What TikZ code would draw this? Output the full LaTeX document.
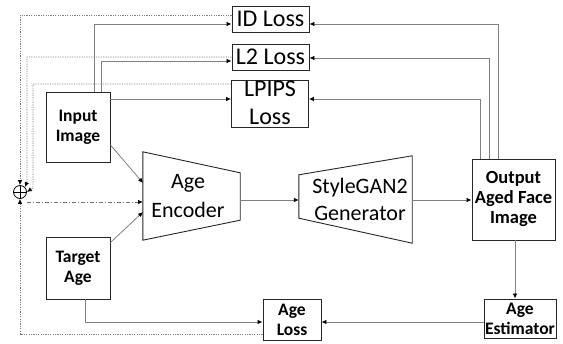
\documentclass[tikz,border=0pt]{standalone}
\usepackage{fontspec}
\setmainfont{Carlito}
\usetikzlibrary{arrows.meta,calc}
\begin{document}
\begin{tikzpicture}[x=1pt,y=-1pt,
  box/.style={draw=black!85, line width=0.9pt, inner sep=0pt, align=center},
  bt/.style={font=\fontsize{17.5}{20}\selectfont\bfseries},
  lt/.style={font=\fontsize{24}{28}\selectfont},
  conn/.style={draw=black!50, line width=0.8pt, -{Latex[length=5pt,width=4.5pt,color=black]}},
  fb/.style={draw=black!50, line width=0.8pt, dash pattern=on 1.2pt off 1.2pt, -{Latex[length=5pt,width=4.5pt,color=black]}},
  fbd/.style={draw=black!55, line width=0.8pt, dash pattern=on 4pt off 2pt on 1pt off 2pt, -{Latex[length=5pt,width=4.5pt,color=black]}}]
\useasboundingbox (0,0) rectangle (563,344);

% boxes
\node[box, lt, minimum width=77pt, minimum height=26pt] (idloss) at (270.5,19) {ID Loss};
\node[box, lt, minimum width=77pt, minimum height=26pt] (l2loss) at (270.5,57) {L2 Loss};
\node[box, minimum width=77pt, minimum height=47pt] (lpips) at (270,103.5) {};
\node[lt, align=center, inner sep=0pt] (lpipstext) at (270,103) {LPIPS\\Loss};
\node[box, bt, minimum width=64pt, minimum height=70pt] (input) at (78,127) {Input\\Image};
\node[box, bt, minimum width=64pt, minimum height=62pt] (target) at (78,268) {Target\\Age};
\node[box, font=\fontsize{18.5}{20}\selectfont\bfseries, minimum width=83pt, minimum height=81pt] (output) at (513.5,199.5) {Output\\Aged Face\\Image};
\node[box, bt, minimum width=72pt, minimum height=39pt] (estimator) at (520,318.5) {Age\\Estimator};
\node[box, bt, minimum width=58pt, minimum height=41pt] (ageloss) at (292,319.5) {Age\\Loss};

% encoder & generator
\node[minimum width=97pt, minimum height=88pt, inner sep=0pt] (enc) at (191.5,196) {};
\draw[black!85, line width=0.9pt] (enc.north west) -- ($(enc.north east)+(0,21)$) -- ($(enc.south east)+(0,-20)$) -- (enc.south west) -- cycle;
\node[font=\fontsize{22}{29}\selectfont, align=center, inner sep=0pt] (enctext) at (188,196) {Age\\Encoder};
\node[minimum width=113pt, minimum height=87pt, inner sep=0pt] (gen) at (355.5,199.5) {};
\draw[black!85, line width=0.9pt] ($(gen.north west)+(0,19)$) -- (gen.north east) -- (gen.south east) -- ($(gen.south west)+(0,-25)$) -- cycle;
\node[font=\fontsize{22}{27}\selectfont, align=center, inner sep=0pt] (gentext) at (360,199) {StyleGAN2\\Generator};

% summation
\node[draw=black, line width=0.8pt, circle, minimum size=13pt, inner sep=0pt] (sum) at (20,192) {};
\draw[black, line width=0.8pt] (sum.north) -- (sum.south) (sum.west) -- (sum.east);

\coordinate (encA) at (143,183);
\coordinate (encB) at (143,202);
\coordinate (encC) at (143,212);

% forward connectors
\draw[conn] ([yshift=-18pt]input.east) -- (encA);
\draw[conn] ([yshift=-6pt]target.north east) -- (encC);
\draw[conn] (enc.east |- 0,200) -- (gen.west |- 0,200);
\draw[conn] (gen.east |- 0,200) -- (output.west |- 0,200);
\draw[conn] (output.south |- 0,240) ++(1.5,0) coordinate (oe) -- (oe |- estimator.north);
\draw[conn] (estimator.west |- 0,322) -- (ageloss.east |- 0,322);
\draw[conn] (target.south -| 85,0) -- (85,322) -- (ageloss.west |- 0,322);

% input to losses
\draw[conn] (input.north -| 94,0) -- (94,24) -- (idloss.west |- 0,24);
\draw[conn] (input.north -| 101,0) -- (101,61) -- (l2loss.west |- 0,61);
\draw[conn] (input.east |- 0,99) -- (lpips.west |- 0,99);

% output to losses
\draw[conn] (output.north -| 498,0) -- (498,24) -- (idloss.east |- 0,24);
\draw[conn] (output.north -| 489,0) -- (489,58) -- (l2loss.east |- 0,58);
\draw[conn] (output.north -| 480,0) -- (480,99) -- (lpips.east |- 0,99);

% feedback (dotted)
\draw[fb] (idloss.west |- 0,15) -- (20,15) -- (sum.north);
\draw[fb] (l2loss.west |- 0,57) -- (27,57) -- (27,182) -- (sum.north east);
\draw[fb] (lpips.west |- 0,84) -- (33,84) -- (33,188) -- (sum.east);
\draw[fb] (ageloss.west |- 0,334) -- (20,334) -- (sum.south);
\draw[fbd] ([yshift=-10pt]sum.east) -- (encB);
\end{tikzpicture}
\end{document}
